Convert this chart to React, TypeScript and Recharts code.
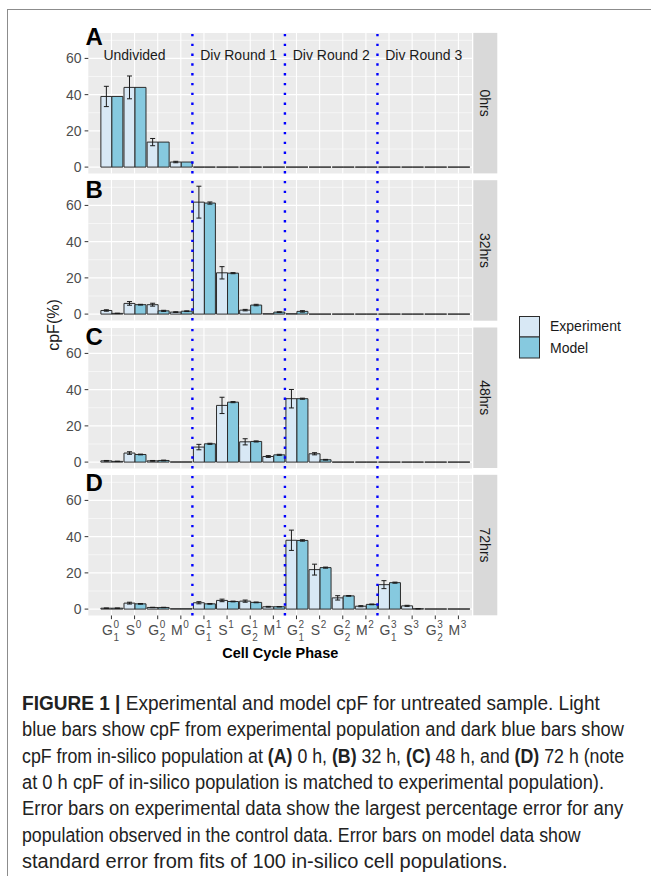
import React, { useLayoutEffect, useRef, useState } from 'react';
import { ComposedChart, Bar, XAxis, YAxis, CartesianGrid, ReferenceLine, ReferenceDot, ErrorBar } from 'recharts';

// ---------- data ----------
const phaseBase = ['G', 'S', 'G', 'M', 'G', 'S', 'G', 'M', 'G', 'S', 'G', 'M', 'G', 'S', 'G', 'M'];
const phaseSub = ['1', '', '2', '', '1', '', '2', '', '1', '', '2', '', '1', '', '2', ''];
const phaseSup = ['0', '0', '0', '0', '1', '1', '1', '1', '2', '2', '2', '2', '3', '3', '3', '3'];
const phaseIndex = [1, 2, 3, 4, 5, 6, 7, 8, 9, 10, 11, 12, 13, 14, 15, 16];

const timeLabels = ['0hrs', '32hrs', '48hrs', '72hrs'];
const panelLetters = ['A', 'B', 'C', 'D'];

const exp0 = [39.0, 44.0, 13.8, 2.8, 0, 0, 0, 0, 0, 0, 0, 0, 0, 0, 0, 0];
const expErr0 = [5.6, 6.3, 2.0, 0.4, 0, 0, 0, 0, 0, 0, 0, 0, 0, 0, 0, 0];
const model0 = [39.0, 44.0, 13.8, 2.8, 0, 0, 0, 0, 0, 0, 0, 0, 0, 0, 0, 0];
const modelErr0 = [0, 0, 0, 0, 0, 0, 0, 0, 0, 0, 0, 0, 0, 0, 0, 0];

const exp32 = [2.0, 5.9, 5.2, 1.1, 61.8, 22.8, 2.2, 0.2, 0.2, 0, 0, 0, 0, 0, 0, 0];
const expErr32 = [0.4, 1.0, 0.8, 0.2, 8.8, 3.4, 0.4, 0, 0, 0, 0, 0, 0, 0, 0, 0];
const model32 = [0.4, 5.2, 1.8, 1.6, 61.3, 22.6, 5.0, 1.1, 1.5, 0, 0, 0, 0, 0, 0, 0];
const modelErr32 = [0.1, 0.2, 0.3, 0.2, 0.6, 0.3, 0.4, 0.2, 0.4, 0, 0, 0, 0, 0, 0, 0];

const exp48 = [0.7, 5.0, 0.7, 0.1, 8.3, 31.3, 11.2, 3.1, 35.0, 4.6, 0, 0, 0, 0, 0, 0];
const expErr48 = [0.2, 0.7, 0.2, 0, 1.5, 4.5, 1.7, 0.5, 5.1, 0.6, 0, 0, 0, 0, 0, 0];
const model48 = [0.4, 4.2, 0.9, 0.1, 10.1, 33.1, 11.4, 4.0, 35.0, 1.3, 0, 0, 0, 0, 0, 0];
const modelErr48 = [0.1, 0.2, 0.2, 0, 0.3, 0.3, 0.3, 0.3, 0.3, 0.2, 0, 0, 0, 0, 0, 0];

const exp72 = [0.5, 3.3, 0.9, 0.2, 3.5, 4.8, 4.4, 1.3, 38.0, 21.8, 6.2, 1.6, 13.5, 1.8, 0.1, 0.1];
const expErr72 = [0.1, 0.5, 0.1, 0, 0.6, 0.7, 0.6, 0.2, 5.6, 3.0, 1.2, 0.3, 2.2, 0.3, 0, 0];
const model72 = [0.5, 2.9, 0.9, 0.2, 2.9, 4.2, 3.7, 1.3, 37.9, 22.9, 7.3, 2.6, 14.6, 0.2, 0.1, 0.1];
const modelErr72 = [0.1, 0.2, 0.1, 0, 0.2, 0.2, 0.2, 0.1, 0.4, 0.3, 0.2, 0.2, 0.3, 0.1, 0, 0];

const expSeries = [exp0, exp32, exp48, exp72];
const expErrSeries = [expErr0, expErr32, expErr48, expErr72];
const modelSeries = [model0, model32, model48, model72];
const modelErrSeries = [modelErr0, modelErr32, modelErr48, modelErr72];

const roundLabels = ['Undivided', 'Div Round 1', 'Div Round 2', 'Div Round 3'];
const roundLabelX = [2, 6.5, 10.5, 14.5];
const roundLabelY = 62;
const roundDividers = [4.5, 8.5, 12.5];
const yTicks = [0, 20, 40, 60];
const yMinor = [10, 30, 50, 70];

// caption: each line is a list of [text, bold] segments
const captionLines: [string, boolean][][] = [
  [['FIGURE 1 |', true], [' Experimental and model cpF for untreated sample. Light', false]],
  [['blue bars show cpF from experimental population and dark blue bars show', false]],
  [
    ['cpF from in-silico population at ', false],
    ['(A)', true],
    [' 0 h, ', false],
    ['(B)', true],
    [' 32 h, ', false],
    ['(C)', true],
    [' 48 h, and ', false],
    ['(D)', true],
    [' 72 h (note', false],
  ],
  [['at 0 h cpF of in-silico population is matched to experimental population).', false]],
  [['Error bars on experimental data show the largest percentage error for any', false]],
  [['population observed in the control data. Error bars on model data show', false]],
  [['standard error from fits of 100 in-silico cell populations.', false]],
];
const captionWidths = [578, 602, 602, 582, 601, 559, 486];

// ---------- style ----------
const EXP_COLOR = '#d8e8f5';
const MODEL_COLOR = '#86c9df';
const OUTLINE = '#2b2b2b';
const FONT = '"Liberation Sans", Arial, Helvetica, sans-serif';
const PANEL_TOPS = [32.9, 180.2, 327.5, 474.8];
const PANEL_H = 140.5;
const PAD = 6;
const PLOT_LEFT = 88.3;
const PLOT_RIGHT = 472.3;
const X_DOMAIN: [number, number] = [0, 16.6];
const Y_DOMAIN: [number, number] = [-3.53, 74.03];
const LETTER_BASE = [45, 198, 345, 491];

const buildRows = (p: number) =>
  phaseIndex.map((x, i) => ({
    x,
    exp: expSeries[p][i],
    expErr: expErrSeries[p][i],
    model: modelSeries[p][i],
    modelErr: modelErrSeries[p][i],
  }));

const BarShape = (props: any) => {
  const { x, y, width, height, fill } = props;
  if (x == null || y == null || width == null) return null;
  const h = height || 0;
  const d = `M${x},${y} h${width} v${h} h${-width} Z`;
  return <path d={d} fill={fill} stroke={OUTLINE} strokeWidth={1} />;
};

const baseWidths: Record<string, number> = { G: 10.9, S: 9.3, M: 11.7 };

const PhaseTick = (props: any) => {
  const { x, y, payload } = props;
  const i = Math.round(payload.value) - 1;
  if (i < 0 || i > 15) return null;
  const base = phaseBase[i];
  const bw = baseWidths[base];
  const total = bw + 0.6 + 5.6;
  const x0 = x - total / 2 - 1;
  return (
    <g fill="#4d4d4d" fontFamily={FONT}>
      <text x={x0} y={y + 14} fontSize={14}>{base}</text>
      {phaseSub[i] ? (
        <text x={x0 + bw + 0.6} y={y + 20} fontSize={10}>{phaseSub[i]}</text>
      ) : null}
      <text x={x0 + bw + 0.6} y={y + 7} fontSize={10}>{phaseSup[i]}</text>
    </g>
  );
};

const RoundLabel = (label: string) => (props: any) => (
  <text x={props.cx} y={props.cy + 5} textAnchor="middle" fontSize={14} fill="#1a1a1a" fontFamily={FONT}>
    {label}
  </text>
);

const Panel = ({ p }: { p: number }) => {
  const rows = buildRows(p);
  const isLast = p === 3;
  return (
    <div style={{ position: 'absolute', left: 0, top: PANEL_TOPS[p] - PAD }}>
      <ComposedChart
        width={PLOT_RIGHT}
        height={isLast ? PANEL_H + PAD + 45 : PANEL_H + 2 * PAD}
        data={rows}
        margin={{ top: PAD, right: 0, bottom: isLast ? 0 : PAD, left: 0 }}
        barGap={0}
        barSize={11}
      >
        <CartesianGrid fill="#ebebeb" stroke="#ffffff" strokeWidth={0.55} horizontalValues={yMinor} vertical={false} />
        <CartesianGrid stroke="#ffffff" strokeWidth={1.1} horizontalValues={yTicks} verticalValues={phaseIndex} />
        <XAxis
          type="number"
          dataKey="x"
          domain={X_DOMAIN}
          ticks={phaseIndex}
          interval={0}
          allowDataOverflow
          hide={!isLast}
          height={45}
          axisLine={false}
          tickLine={{ stroke: '#333333' }}
          tickSize={3.67}
          tickMargin={2}
          tick={<PhaseTick />}
        />
        <YAxis
          type="number"
          width={PLOT_LEFT}
          domain={Y_DOMAIN}
          ticks={yTicks}
          interval={0}
          allowDataOverflow
          axisLine={false}
          tickLine={{ stroke: '#333333' }}
          tickSize={3.67}
          tickMargin={3}
          tick={{ fill: '#4d4d4d', fontSize: 14, fontFamily: FONT }}
        />
        <Bar dataKey="exp" fill={EXP_COLOR} shape={BarShape} isAnimationActive={false}>
          <ErrorBar dataKey="expErr" width={2.5} stroke="#1a1a1a" strokeWidth={1} direction="y" />
        </Bar>
        <Bar dataKey="model" fill={MODEL_COLOR} shape={BarShape} isAnimationActive={false}>
          <ErrorBar dataKey="modelErr" width={2.5} stroke="#1a1a1a" strokeWidth={1} direction="y" />
        </Bar>
        {roundDividers.map((v) => (
          <ReferenceLine key={v} x={v} stroke="#0000ff" strokeWidth={2.4} strokeDasharray="2.4 7.4" />
        ))}
        {p === 0
          ? roundLabels.map((lab, k) => (
              <ReferenceDot key={lab} x={roundLabelX[k]} y={roundLabelY} r={1} shape={RoundLabel(lab)} />
            ))
          : null}
      </ComposedChart>
    </div>
  );
};

const CaptionLine = ({ segs, width, top }: { segs: [string, boolean][]; width: number; top: number }) => {
  const ref = useRef<HTMLDivElement>(null);
  const [scale, setScale] = useState(1);
  useLayoutEffect(() => {
    if (ref.current) {
      const w = ref.current.offsetWidth;
      if (w > 0) setScale(width / w);
    }
  }, [width]);
  return (
    <div
      ref={ref}
      style={{
        position: 'absolute',
        left: 22,
        top,
        whiteSpace: 'pre',
        fontSize: 19.5,
        lineHeight: '24px',
        color: '#222222',
        fontFamily: FONT,
        transform: `scaleX(${scale})`,
        transformOrigin: '0 0',
      }}
    >
      {segs.map(([t, b], k) => (
        <span key={k} style={{ fontWeight: b ? 'bold' : 'normal' }}>
          {t}
        </span>
      ))}
    </div>
  );
};

export default function App() {
  return (
    <div
      style={{
        position: 'absolute',
        left: 0,
        top: 0,
        width: 651,
        height: 876,
        background: '#ffffff',
        overflow: 'hidden',
        fontFamily: FONT,
      }}
    >
      {[0, 1, 2, 3].map((p) => (
        <Panel key={p} p={p} />
      ))}
      <svg width={651} height={876} style={{ position: 'absolute', left: 0, top: 0, pointerEvents: 'none' }}>
        <line x1={7} y1={9.5} x2={651} y2={9.5} stroke="#8c8c8c" strokeWidth={1} />
        <line x1={7.5} y1={9} x2={7.5} y2={876} stroke="#8c8c8c" strokeWidth={1} />
        {PANEL_TOPS.map((t, p) => (
          <g key={p}>
            <rect x={473.3} y={t} width={24} height={PANEL_H} fill="#d9d9d9" />
            <g transform={`translate(480.3 ${t + PANEL_H / 2}) rotate(90)`}>
              <text x={0} y={0} textAnchor="middle" fontSize={14} fill="#1a1a1a" fontFamily={FONT}>
                {timeLabels[p]}
              </text>
            </g>
            <text x={85.5} y={LETTER_BASE[p]} fontSize={24} fontWeight="bold" fill="#000" fontFamily={FONT}>
              {panelLetters[p]}
            </text>
          </g>
        ))}
        <g transform="translate(58.5 325) rotate(-90)">
          <text x={0} y={0} textAnchor="middle" fontSize={16} fill="#1a1a1a" fontFamily={FONT}>
            cpF(%)
          </text>
        </g>
        <text x={280.3} y={658.3} textAnchor="middle" fontSize={14.5} fontWeight="bold" fill="#000" fontFamily={FONT}>
          Cell Cycle Phase
        </text>
        <rect x={519.5} y={316.5} width={20} height={20.5} fill={EXP_COLOR} stroke={OUTLINE} strokeWidth={1} />
        <rect x={519.5} y={337} width={20} height={21} fill={MODEL_COLOR} stroke={OUTLINE} strokeWidth={1} />
        <text x={550} y={331} fontSize={14} fill="#1a1a1a" fontFamily={FONT}>Experiment</text>
        <text x={550} y={352.5} fontSize={14} fill="#1a1a1a" fontFamily={FONT}>Model</text>
      </svg>
      {captionLines.map((segs, k) => (
        <CaptionLine key={k} segs={segs} width={captionWidths[k]} top={691 + k * 26.3} />
      ))}
    </div>
  );
}
